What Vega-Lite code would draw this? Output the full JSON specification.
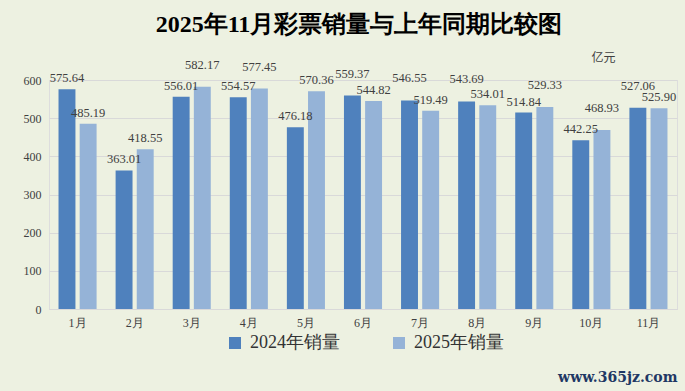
{
  "$schema": "https://vega.github.io/schema/vega-lite/v6.json",
  "width": 628,
  "height": 229,
  "autosize": {"type": "none"},
  "padding": {"left": 49, "top": 80, "right": 8, "bottom": 82},
  "background": "#edf1e1",
  "title": {
    "text": "2025年11月彩票销量与上年同期比较图",
    "font": "Liberation Serif",
    "fontSize": 24,
    "fontWeight": "bold",
    "color": "#000000",
    "anchor": "middle",
    "frame": "group",
    "dx": -4,
    "offset": 14
  },
  "data": {
    "values": [
      {"month": "1月", "series": "2024年销量", "value": 575.64},
      {"month": "1月", "series": "2025年销量", "value": 485.19},
      {"month": "2月", "series": "2024年销量", "value": 363.01},
      {"month": "2月", "series": "2025年销量", "value": 418.55},
      {"month": "3月", "series": "2024年销量", "value": 556.01},
      {"month": "3月", "series": "2025年销量", "value": 582.17},
      {"month": "4月", "series": "2024年销量", "value": 554.57},
      {"month": "4月", "series": "2025年销量", "value": 577.45},
      {"month": "5月", "series": "2024年销量", "value": 476.18},
      {"month": "5月", "series": "2025年销量", "value": 570.36},
      {"month": "6月", "series": "2024年销量", "value": 559.37},
      {"month": "6月", "series": "2025年销量", "value": 544.82},
      {"month": "7月", "series": "2024年销量", "value": 546.55},
      {"month": "7月", "series": "2025年销量", "value": 519.49},
      {"month": "8月", "series": "2024年销量", "value": 543.69},
      {"month": "8月", "series": "2025年销量", "value": 534.01},
      {"month": "9月", "series": "2024年销量", "value": 514.84},
      {"month": "9月", "series": "2025年销量", "value": 529.33},
      {"month": "10月", "series": "2024年销量", "value": 442.25},
      {"month": "10月", "series": "2025年销量", "value": 468.93},
      {"month": "11月", "series": "2024年销量", "value": 527.06},
      {"month": "11月", "series": "2025年销量", "value": 525.90}
    ]
  },
  "transform": [
    {"joinaggregate": [
      {"op": "max", "field": "value", "as": "maxv"},
      {"op": "min", "field": "value", "as": "minv"}
    ], "groupby": ["month"]}
  ],
  "encoding": {
    "x": {
      "field": "month",
      "type": "nominal",
      "sort": null,
      "scale": {"paddingInner": 0.333, "paddingOuter": 0.1667},
      "axis": {
        "title": "www.365jz.com",
        "titleX": 628,
        "titleY": 68,
        "titleAlign": "right",
        "titleBaseline": "middle",
        "titleFont": "DejaVu Serif",
        "titleFontWeight": "bold",
        "titleFontSize": 14,
        "titleColor": "#1f3864",
        "labelAngle": 0,
        "labelFont": "Liberation Serif",
        "labelFontSize": 12,
        "labelColor": "#404040",
        "labelPadding": 8,
        "ticks": false,
        "domainColor": "#d9d9d9"
      }
    },
    "xOffset": {
      "field": "series",
      "type": "nominal",
      "sort": ["2024年销量", "2025年销量"],
      "scale": {"paddingInner": 0.2, "paddingOuter": 0}
    },
    "y": {
      "field": "value",
      "type": "quantitative",
      "scale": {"domain": [0, 600], "nice": false},
      "axis": {
        "title": "亿元",
        "titleAngle": 0,
        "titleX": 554,
        "titleY": -23,
        "titleAlign": "center",
        "titleBaseline": "middle",
        "titleFont": "Noto Sans CJK SC",
        "titleFontWeight": "normal",
        "titleFontSize": 12,
        "titleColor": "#404040",
        "values": [0, 100, 200, 300, 400, 500, 600],
        "labelFont": "Liberation Serif",
        "labelFontSize": 12,
        "labelColor": "#404040",
        "labelPadding": 8,
        "ticks": false,
        "domain": false,
        "gridColor": "#d9d9d9"
      }
    }
  },
  "layer": [
    {
      "mark": {"type": "bar"},
      "encoding": {
        "color": {
          "field": "series",
          "type": "nominal",
          "scale": {"domain": ["2024年销量", "2025年销量"], "range": ["#4f81bd", "#95b3d7"]},
          "legend": {
            "title": null,
            "orient": "none",
            "legendX": 177,
            "legendY": 254,
            "direction": "horizontal",
            "symbolType": "square",
            "symbolSize": 144,
            "symbolStrokeWidth": 0,
            "labelFont": "Liberation Serif",
            "labelFontSize": 18,
            "labelColor": "#333333",
            "labelOffset": 6,
            "columnPadding": 50
          }
        }
      }
    },
    {
      "transform": [{"filter": "datum.value === datum.maxv && datum.maxv - datum.minv < 40"}],
      "mark": {"type": "text", "baseline": "bottom", "dy": -15, "font": "Liberation Serif", "fontSize": 12.5, "color": "#404040"},
      "encoding": {"text": {"field": "value", "type": "quantitative", "format": ".2f"}}
    },
    {
      "transform": [{"filter": "!(datum.value === datum.maxv && datum.maxv - datum.minv < 40)"}],
      "mark": {"type": "text", "baseline": "bottom", "dy": -4, "font": "Liberation Serif", "fontSize": 12.5, "color": "#404040"},
      "encoding": {"text": {"field": "value", "type": "quantitative", "format": ".2f"}}
    }
  ]
}
